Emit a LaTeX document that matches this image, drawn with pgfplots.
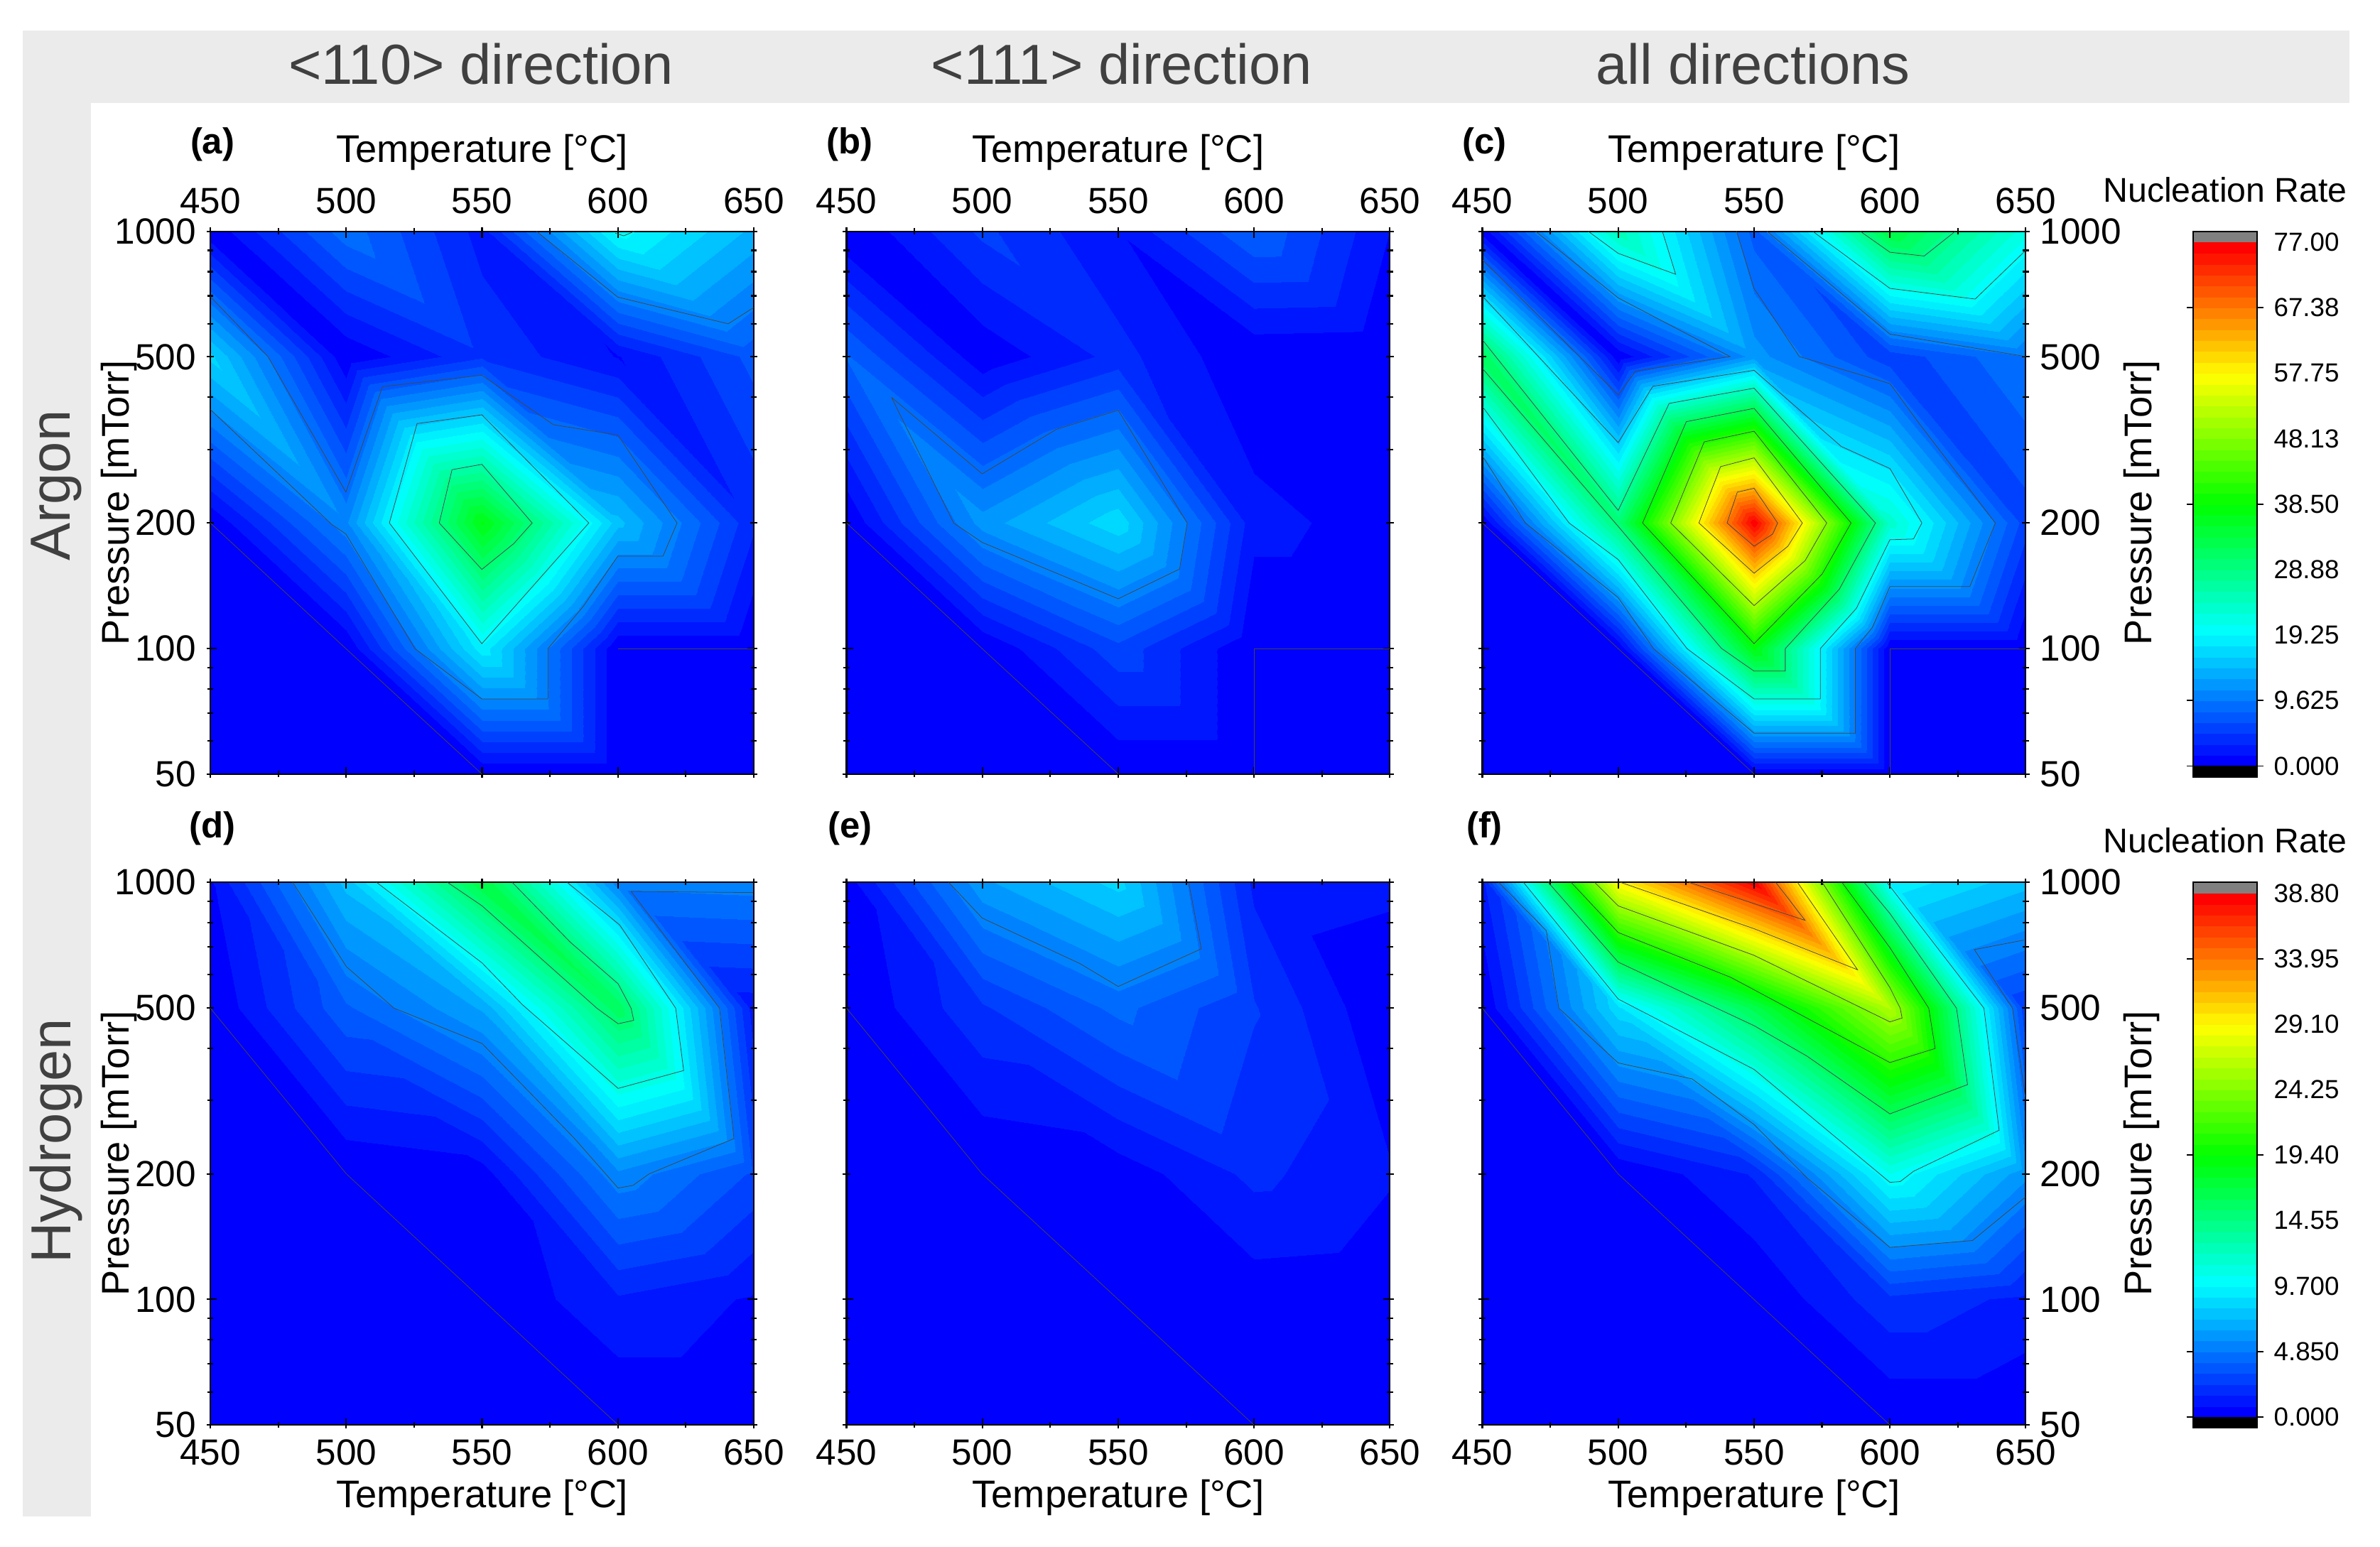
\documentclass[border=0pt]{standalone}
\usepackage{fontspec}
\setmainfont{Liberation Sans}
\usepackage{pgfplots}
\usepackage{pgfplotstable}
\pgfplotsset{compat=1.18}

\definecolor{band}{RGB}{235,235,235}
\definecolor{headtxt}{RGB}{64,64,64}
\definecolor{contourln}{RGB}{70,70,70}

\pgfplotstableread{
T P z
450 50 0
500 50 0
550 50 0
600 50 0
650 50 0
450 100 0
500 100 0
550 100 18.7
600 100 0
650 100 0
450 200 0
500 200 10.9
550 200 37.3
600 200 15
650 200 3.5
450 500 16.5
500 500 0.2
550 500 4.5
600 500 1.5
650 500 7
450 1000 0.3
500 1000 9
550 1000 2.5
600 1000 20
650 1000 14
}\tabA

\pgfplotstableread{
T P z
450 50 0
500 50 0
550 50 0
600 50 0
650 50 0
450 100 0
500 100 0
550 100 5.9
600 100 0
650 100 0
450 200 0
500 200 12
550 200 17.2
600 200 2.2
650 200 0.8
450 500 8.2
500 500 0.4
550 500 3.8
600 500 0.2
650 500 0
450 1000 0
500 1000 5.2
550 1000 1.7
600 1000 8
650 1000 1.6
}\tabB

\pgfplotstableread{
T P z
450 50 0
500 50 0
550 50 0
600 50 0
650 50 0
450 100 0
500 100 0
550 100 37.5
600 100 0
650 100 0
450 200 0
500 200 30
550 200 76.8
600 200 23.4
650 200 5.6
450 500 32
500 500 0.3
550 500 12
600 500 5.3
650 500 9.6
450 1000 0.5
500 1000 25
550 1000 7.3
600 1000 34
650 1000 21.5
}\tabC

\pgfplotstableread{
T P z
450 50 0
500 50 0
550 50 0
600 50 0
650 50 0
450 100 0
500 100 0
550 100 0
600 100 1.5
650 100 0.7
450 200 0
500 200 0
550 200 0.4
600 200 5.45
650 200 3.1
450 500 0
500 500 3.9
550 500 6.6
600 500 16
650 500 1.1
450 1000 0.7
500 1000 7.6
550 1000 17
600 1000 5.1
650 1000 5.3
}\tabD

\pgfplotstableread{
T P z
450 50 0
500 50 0
550 50 0
600 50 0
650 50 0
450 100 0
500 100 0
550 100 0
600 100 0.33
650 100 0.2
450 200 0
500 200 0
550 200 0.3
600 200 1.83
650 200 0.9
450 500 0
500 500 2.3
550 500 4.3
600 500 2.5
650 500 0
450 1000 0.4
500 1000 6.3
550 1000 8.4
600 1000 1.4
650 1000 1.05
}\tabE

\pgfplotstableread{
T P z
450 50 0
500 50 0
550 50 0
600 50 0
650 50 0
450 100 0
500 100 0
550 100 0
600 100 2.2
650 100 1.4
450 200 0
500 200 0
550 200 1.7
600 200 10.5
650 200 5.9
450 500 0
500 500 8.7
550 500 16.5
600 500 26
650 500 2.5
450 1000 1.5
500 1000 29.2
550 1000 38.7
600 1000 9.5
650 1000 7.6
}\tabF

\pgfplotsset{
  colormap={rb}{rgb255=(0,0,255) rgb255=(0,255,255) rgb255=(0,255,0) rgb255=(255,255,0) rgb255=(255,0,0)},
  colormap={rb48}{samples of colormap=(48 of rb)},
  panel/.style={
    anchor=north west, scale only axis, width=179pt, height=178.8pt,
    axis on top, axis line style={line width=0.5pt},
    xmin=450, xmax=650, ymin=1.69897, ymax=3,
    xtick={450,500,550,600,650}, minor xtick={475,525,575,625},
    % pressure axis is logarithmic: positions are log10 of the pressure
    ytick={1.69897,2,2.30103,2.69897,3},
    minor ytick={1.77815,1.84510,1.90309,1.95424,2.47712,2.60206,2.77815,2.84510,2.90309,2.95424},
    tick align=center, major tick length=2.4pt, minor tick length=2pt,
    tick style={black, line width=0.5pt},
    /pgf/number format/assume math mode=true,
    /pgf/number format/1000 sep={},
    tick label style={font=\fontsize{12}{14}\selectfont},
    label style={font=\fontsize{12.7}{15}\selectfont},
    colormap name=rb48, colormap access=piecewise constant,
  },
  ylabs/.style={yticklabels={50,100,200,500,1000}, ylabel={Pressure [mTorr]}},
  leftlab/.style={ylabs, ylabel shift=-14pt},
  rightlab/.style={ylabs, yticklabel pos=right, ylabel shift=-6pt},
  nolabs/.style={yticklabels={}},
  toprow/.style={xticklabel pos=top, xticklabel shift=1pt, xlabel={Temperature [°C]}, xlabel shift=-1pt},
  botrow/.style={xticklabel pos=bottom, xlabel={Temperature [°C]}, xlabel shift=-2pt},
  cline/.style={contourln, line width=0.18pt, no marks, forget plot},
  contourlayer/.style={
    anchor=north west, scale only axis, width=179pt, height=178.8pt,
    hide axis, y dir=reverse
  },
  cbar/.style={
    anchor=north west, scale only axis, width=21pt, height=179.8pt,
    xmin=0, xmax=1, ymin=-1, ymax=49, xtick=\empty,
    axis on top, axis line style={line width=0.5pt},
    ytick={0,6,12,18,24,30,36,42,48}, yticklabel pos=right,
    extra y ticks={0,6,24,42}, extra y tick labels={},
    extra y tick style={major tick length=2.1pt, tick align=outside},
    major tick length=0pt, tick style={black, line width=0.4pt},
    tick label style={font=\fontsize{8.6}{10}\selectfont},
    yticklabel style={xshift=2pt},
    colormap name=rb48, colormap access=piecewise constant,
    point meta min=0, point meta max=48,
  },
}

% triangles of the 5x5 grid, split along the falling diagonal
\newcommand\nodeplot[1]{\addplot[patch, patch type=triangle, shader=interp, point meta=explicit,
  table/row sep=\\, patch table={
0 1 5\\1 6 5\\1 2 6\\2 7 6\\2 3 7\\3 8 7\\3 4 8\\4 9 8\\
5 6 10\\6 11 10\\6 7 11\\7 12 11\\7 8 12\\8 13 12\\8 9 13\\9 14 13\\
10 11 15\\11 16 15\\11 12 16\\12 17 16\\12 13 17\\13 18 17\\13 14 18\\14 19 18\\
15 16 20\\16 21 20\\16 17 21\\17 22 21\\17 18 22\\18 23 22\\18 19 23\\19 24 23\\
}] table[x=T, y expr={log10(\thisrow{P})}, meta=z] {#1};
% the 100 mTorr tick and the temperature ticks are longer than the others
\draw[line width=0.5pt] (axis description cs:-0.012,0.2314) -- (axis description cs:0.012,0.2314);
\draw[line width=0.5pt] (axis description cs:0.988,0.2314) -- (axis description cs:1.012,0.2314);
\pgfplotsinvokeforeach{0,0.25,0.5,0.75,1}{
  \draw[line width=0.5pt] (axis description cs:##1,-0.012) -- (axis description cs:##1,0.012);
  \draw[line width=0.5pt] (axis description cs:##1,0.988) -- (axis description cs:##1,1.012);
}
}

\newcommand\barplot{%
  \addplot[surf, shader=flat mean, mesh/cols=2, point meta=y] coordinates {
    (0,0)(1,0)(0,1)(1,1)(0,2)(1,2)(0,3)(1,3)(0,4)(1,4)(0,5)(1,5)(0,6)(1,6)(0,7)(1,7)
    (0,8)(1,8)(0,9)(1,9)(0,10)(1,10)(0,11)(1,11)(0,12)(1,12)(0,13)(1,13)(0,14)(1,14)
    (0,15)(1,15)(0,16)(1,16)(0,17)(1,17)(0,18)(1,18)(0,19)(1,19)(0,20)(1,20)(0,21)(1,21)
    (0,22)(1,22)(0,23)(1,23)(0,24)(1,24)(0,25)(1,25)(0,26)(1,26)(0,27)(1,27)(0,28)(1,28)
    (0,29)(1,29)(0,30)(1,30)(0,31)(1,31)(0,32)(1,32)(0,33)(1,33)(0,34)(1,34)(0,35)(1,35)
    (0,36)(1,36)(0,37)(1,37)(0,38)(1,38)(0,39)(1,39)(0,40)(1,40)(0,41)(1,41)(0,42)(1,42)
    (0,43)(1,43)(0,44)(1,44)(0,45)(1,45)(0,46)(1,46)(0,47)(1,47)(0,48)(1,48)};
  \addplot[fill=black, draw=none] coordinates {(0,-1)(1,-1)(1,0)(0,0)} -- cycle;
  \addplot[fill=gray, draw=none] coordinates {(0,48)(1,48)(1,49)(0,49)} -- cycle;
}

\begin{document}
\begin{tikzpicture}
\path[use as bounding box] (0pt,0pt) rectangle (784pt,509.5pt);
\fill[band] (7.5pt,475.5pt) rectangle (774pt,499.5pt);
\fill[band] (7.5pt,9.8pt) rectangle (30pt,499.5pt);

% row 1
\begin{axis}[panel, toprow, leftlab, at={(69.3pt,433.3pt)},
  point meta min=0, point meta max=77]
\nodeplot{\tabA}
\end{axis}
\begin{axis}[contourlayer, at={(69.3pt,433.3pt)}, xmin=160, xmax=1435, ymin=85, ymax=1510]
\addplot[cline] coordinates {(160,851)(478,1181)(797,1510)};
\addplot[cline] coordinates {(1116,1181)(1435,1181)};
\addplot[cline] coordinates {(160,553)(445,855)(478,880)(640,1181)(797,1313)(952,1313)(952,1181)(1035,1070)(1116,938)(1222,938)(1255,851)(1116,620)(965,593)(797,463)(564,493)(478,770)(295,414)(160,257)};
\addplot[cline] coordinates {(925,85)(1116,258)(1375,328)(1435,285)};
\addplot[cline] coordinates {(1110,90)(1130,97)(1155,85)};
\addplot[cline] coordinates {(580,851)(797,1168)(1048,851)(797,567)(645,590)(580,851)};
\addplot[cline] coordinates {(697,851)(797,973)(872,905)(915,851)(797,697)(727,711)(697,851)};
\end{axis}

\begin{axis}[panel, toprow, nolabs, at={(278.85pt,433.3pt)},
  point meta min=0, point meta max=77]
\nodeplot{\tabB}
\end{axis}
\begin{axis}[contourlayer, at={(278.85pt,433.3pt)}, xmin=77, xmax=1503, ymin=85, ymax=1510]
\addplot[cline] coordinates {(77,851)(433,1181)(790,1510)};
\addplot[cline] coordinates {(1146,1510)(1146,1181)(1503,1181)};
\addplot[cline] coordinates {(195,521)(433,722)(628,605)(790,555)(971,851)(951,972)(790,1050)(433,902)(358,851)(195,521)};
\end{axis}

\begin{axis}[panel, toprow, rightlab, at={(488.3pt,433.3pt)},
  point meta min=0, point meta max=77]
\nodeplot{\tabC}
\end{axis}
\begin{axis}[contourlayer, at={(488.3pt,433.3pt)}, xmin=67, xmax=1495, ymin=85, ymax=1510]
\addplot[cline] coordinates {(67,851)(424,1181)(781,1510)};
\addplot[cline] coordinates {(1138,1510)(1138,1181)(1495,1181)};
\addplot[cline] coordinates {(67,675)(180,851)(424,1047)(517,1181)(781,1403)(1047,1403)(1047,1181)(1092,1125)(1138,1018)(1348,1018)(1415,851)(1215,590)(1138,485)(900,414)(781,235)(735,85)};
\addplot[cline] coordinates {(67,545)(295,851)(424,947)(605,1181)(781,1313)(955,1313)(955,1181)(1050,1075)(1138,895)(1200,893)(1222,851)(1138,708)(1010,650)(781,450)(515,492)(424,640)(67,255)};
\addplot[cline] coordinates {(67,445)(424,860)(695,1180)(781,1240)(863,1240)(863,1181)(1005,1025)(1100,851)(781,497)(558,537)(424,818)(67,370)};
\addplot[cline] coordinates {(488,851)(781,1168)(960,985)(1036,851)(781,550)(603,585)(488,851)};
\addplot[cline] coordinates {(562,851)(781,1068)(915,950)(972,851)(781,610)(650,638)(562,851)};
\addplot[cline] coordinates {(636,851)(781,983)(870,912)(908,851)(781,680)(693,703)(636,851)};
\addplot[cline] coordinates {(710,851)(781,912)(830,880)(843,851)(781,760)(737,770)(710,851)};
\addplot[cline] coordinates {(67,160)(424,515)(470,452)(718,414)(424,260)(207,85)};
\addplot[cline] coordinates {(345,85)(424,143)(575,198)(540,85)};
\addplot[cline] coordinates {(815,85)(1138,355)(1495,414)};
\addplot[cline] coordinates {(935,85)(1138,235)(1362,263)(1495,135)};
\addplot[cline] coordinates {(1060,85)(1138,140)(1228,150)(1310,85)};
\end{axis}

% row 2
\begin{axis}[panel, botrow, leftlab, at={(69.3pt,218.8pt)},
  point meta min=0, point meta max=38.8]
\nodeplot{\tabD}
\end{axis}
\begin{axis}[contourlayer, at={(69.3pt,218.8pt)}, xmin=86, xmax=1512, ymin=78, ymax=1505]
\addplot[cline] coordinates {(86,409)(443,845)(799,1175)(1156,1505)};
\addplot[cline] coordinates {(302,78)(443,300)(568,409)(799,502)(1040,750)(1156,882)(1195,875)(1237,845)(1460,752)(1422,409)(1190,102)(1510,105)};
\addplot[cline] coordinates {(522,78)(799,290)(905,400)(1156,620)(1328,573)(1307,409)(1160,190)(1022,78)};
\addplot[cline] coordinates {(708,78)(799,140)(1100,409)(1156,450)(1197,441)(1190,409)(1156,345)(1030,235)(878,78)};
\end{axis}

\begin{axis}[panel, botrow, nolabs, at={(278.85pt,218.8pt)},
  point meta min=0, point meta max=38.8]
\nodeplot{\tabE}
\end{axis}
\begin{axis}[contourlayer, at={(278.85pt,218.8pt)}, xmin=77, xmax=1503, ymin=78, ymax=1505]
\addplot[cline] coordinates {(77,409)(433,845)(790,1175)(1146,1505)};
\addplot[cline] coordinates {(345,78)(433,172)(690,292)(790,352)(1008,253)(975,78)};
\end{axis}

\begin{axis}[panel, botrow, rightlab, at={(488.3pt,218.8pt)},
  point meta min=0, point meta max=38.8]
\nodeplot{\tabF}
\end{axis}
\begin{axis}[contourlayer, at={(488.3pt,218.8pt)}, xmin=67, xmax=1495, ymin=78, ymax=1505]
\addplot[cline] coordinates {(67,409)(424,845)(781,1175)(1138,1505)};
\addplot[cline] coordinates {(110,78)(235,205)(268,409)(424,553)(618,595)(781,715)(920,855)(1138,1038)(1355,1020)(1495,905)};
\addplot[cline] coordinates {(1495,650)(1460,409)(1360,255)(1490,230)};
\addplot[cline] coordinates {(175,78)(424,385)(781,570)(1138,867)(1165,865)(1200,838)(1425,730)(1385,409)(1130,78)};
\addplot[cline] coordinates {(240,78)(424,288)(781,455)(920,535)(1138,687)(1342,610)(1313,409)(1138,160)(1070,78)};
\addplot[cline] coordinates {(300,78)(424,210)(720,328)(1138,552)(1257,515)(1240,409)(1138,250)(1012,78)};
\addplot[cline] coordinates {(362,78)(424,140)(781,270)(1138,445)(1170,435)(1165,409)(1138,355)(960,78)};
\addplot[cline] coordinates {(430,78)(781,200)(1053,308)(895,78)};
\addplot[cline] coordinates {(610,78)(915,178)(838,78)};
\end{axis}

% colour scales
\begin{axis}[cbar, at={(722.5pt,433.3pt)},
  yticklabels={0.000,9.625,19.25,28.88,38.50,48.13,57.75,67.38,77.00}]
\barplot
\end{axis}
\begin{axis}[cbar, at={(722.5pt,218.8pt)},
  yticklabels={0.000,4.850,9.700,14.55,19.40,24.25,29.10,33.95,38.80}]
\barplot
\end{axis}

% headers and panel letters
\node[headtxt, font=\fontsize{18.6}{20}\selectfont] at (158.5pt,488.5pt) {<110> direction};
\node[headtxt, font=\fontsize{18.6}{20}\selectfont] at (369.5pt,488.5pt) {<111> direction};
\node[headtxt, font=\fontsize{18.6}{20}\selectfont] at (577.5pt,488.5pt) {all directions};
\node[headtxt, rotate=90, font=\fontsize{18.6}{20}\selectfont] at (18.5pt,349.5pt) {Argon};
\node[headtxt, rotate=90, font=\fontsize{18.6}{20}\selectfont] at (18.5pt,133.5pt) {Hydrogen};
\foreach \lab/\xx/\yy in {a/70/462,b/280/462,c/489/462,d/70/236.5,e/280/236.5,f/489/236.5}
  \node[font=\fontsize{11.9}{13}\selectfont\bfseries] at (\xx pt,\yy pt) {(\lab)};
\node[font=\fontsize{11.3}{13}\selectfont] at (733pt,447pt) {Nucleation Rate};
\node[font=\fontsize{11.3}{13}\selectfont] at (733pt,232.5pt) {Nucleation Rate};
\end{tikzpicture}
\end{document}
